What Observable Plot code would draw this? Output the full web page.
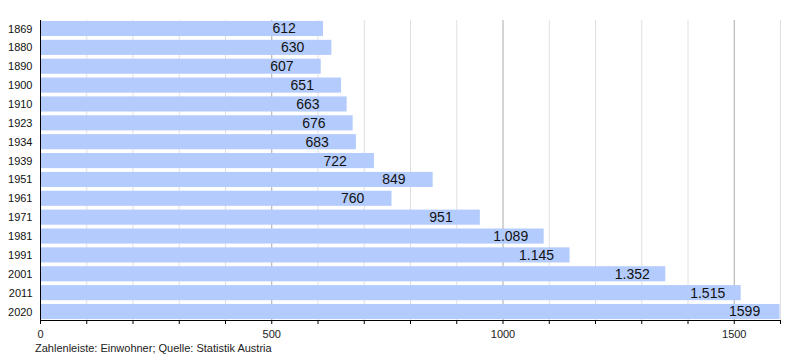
<!DOCTYPE html>
<html><head><meta charset="utf-8">
<script src="https://cdn.jsdelivr.net/npm/d3@7"></script>
<script src="https://cdn.jsdelivr.net/npm/@observablehq/plot@0.6"></script>
<style>
body{margin:0;background:#fff;font-family:"Liberation Sans",Arial,sans-serif;}
#cap{position:absolute;left:35px;top:341px;font-size:11px;line-height:14px;color:#222;}
</style></head>
<body>
<div id="chart"></div>
<div id="cap">Zahlenleiste: Einwohner; Quelle: Statistik Austria</div>
<script>
const years = ["1869","1880","1890","1900","1910","1923","1934","1939","1951","1961","1971","1981","1991","2001","2011","2020"];
const values = [612,630,607,651,663,676,683,722,849,760,951,1089,1145,1352,1515,1599];
const valueLabels = ["612","630","607","651","663","676","683","722","849","760","951","1.089","1.145","1.352","1.515","1599"];
const minorTicks = [0,100,200,300,400,500,600,700,800,900,1000,1100,1200,1300,1400,1500,1600];
const majorTicks = [0,500,1000,1500];
const minorGrid = [100,200,300,400,600,700,800,900,1100,1200,1300,1400,1600];
const majorGrid = [500,1000,1500];

const data = years.map((y,i)=>({year:y, value:values[i], label:valueLabels[i]}));

const W = 800, H = 340, mL = 40, mR = 20, mT = 20, mB = 20;
const chart = Plot.plot({
  width: W, height: H,
  marginLeft: mL, marginRight: mR, marginTop: mT, marginBottom: mB,
  style: {fontFamily: '"Liberation Sans", Arial, sans-serif', background: "#fff"},
  x: {domain: [0,1600], axis: null, label: null},
  y: {domain: years, paddingInner: 0.2, paddingOuter: 0.05, round: false, axis: null, label: null},
  marks: [
    Plot.ruleX(minorGrid, {stroke: "#e0e0e0", strokeWidth: 1}),
    Plot.ruleX(majorGrid, {stroke: "#aaaaaa", strokeWidth: 1}),
    Plot.barX(data, {y: "year", x: "value", fill: "#b3cbfd"}),
    Plot.text(data, {y: "year", x: "value", text: "label", textAnchor: "start", dx: -51, fontSize: 14, fill: "#111"}),
    Plot.axisY({tickSize: 0, tickPadding: 8, fontSize: 11, fill: "#111", label: null}),
    Plot.axisX(minorTicks, {tickSize: 4, tickFormat: () => "", stroke: "#000", label: null}),
    Plot.axisX(majorTicks, {tickSize: 0, tickPadding: 10, fontSize: 11, fill: "#222", tickFormat: d => String(d), label: null}),
    Plot.ruleX([0], {stroke: "#000"})
  ]
});
const xs = chart.scale("x");
d3.select(chart).append("line")
  .attr("x1", xs.apply(0)).attr("x2", xs.apply(1600))
  .attr("y1", H - mB + 0.5).attr("y2", H - mB + 0.5)
  .attr("stroke", "#000");
document.getElementById("chart").appendChild(chart);
</script>
</body></html>
